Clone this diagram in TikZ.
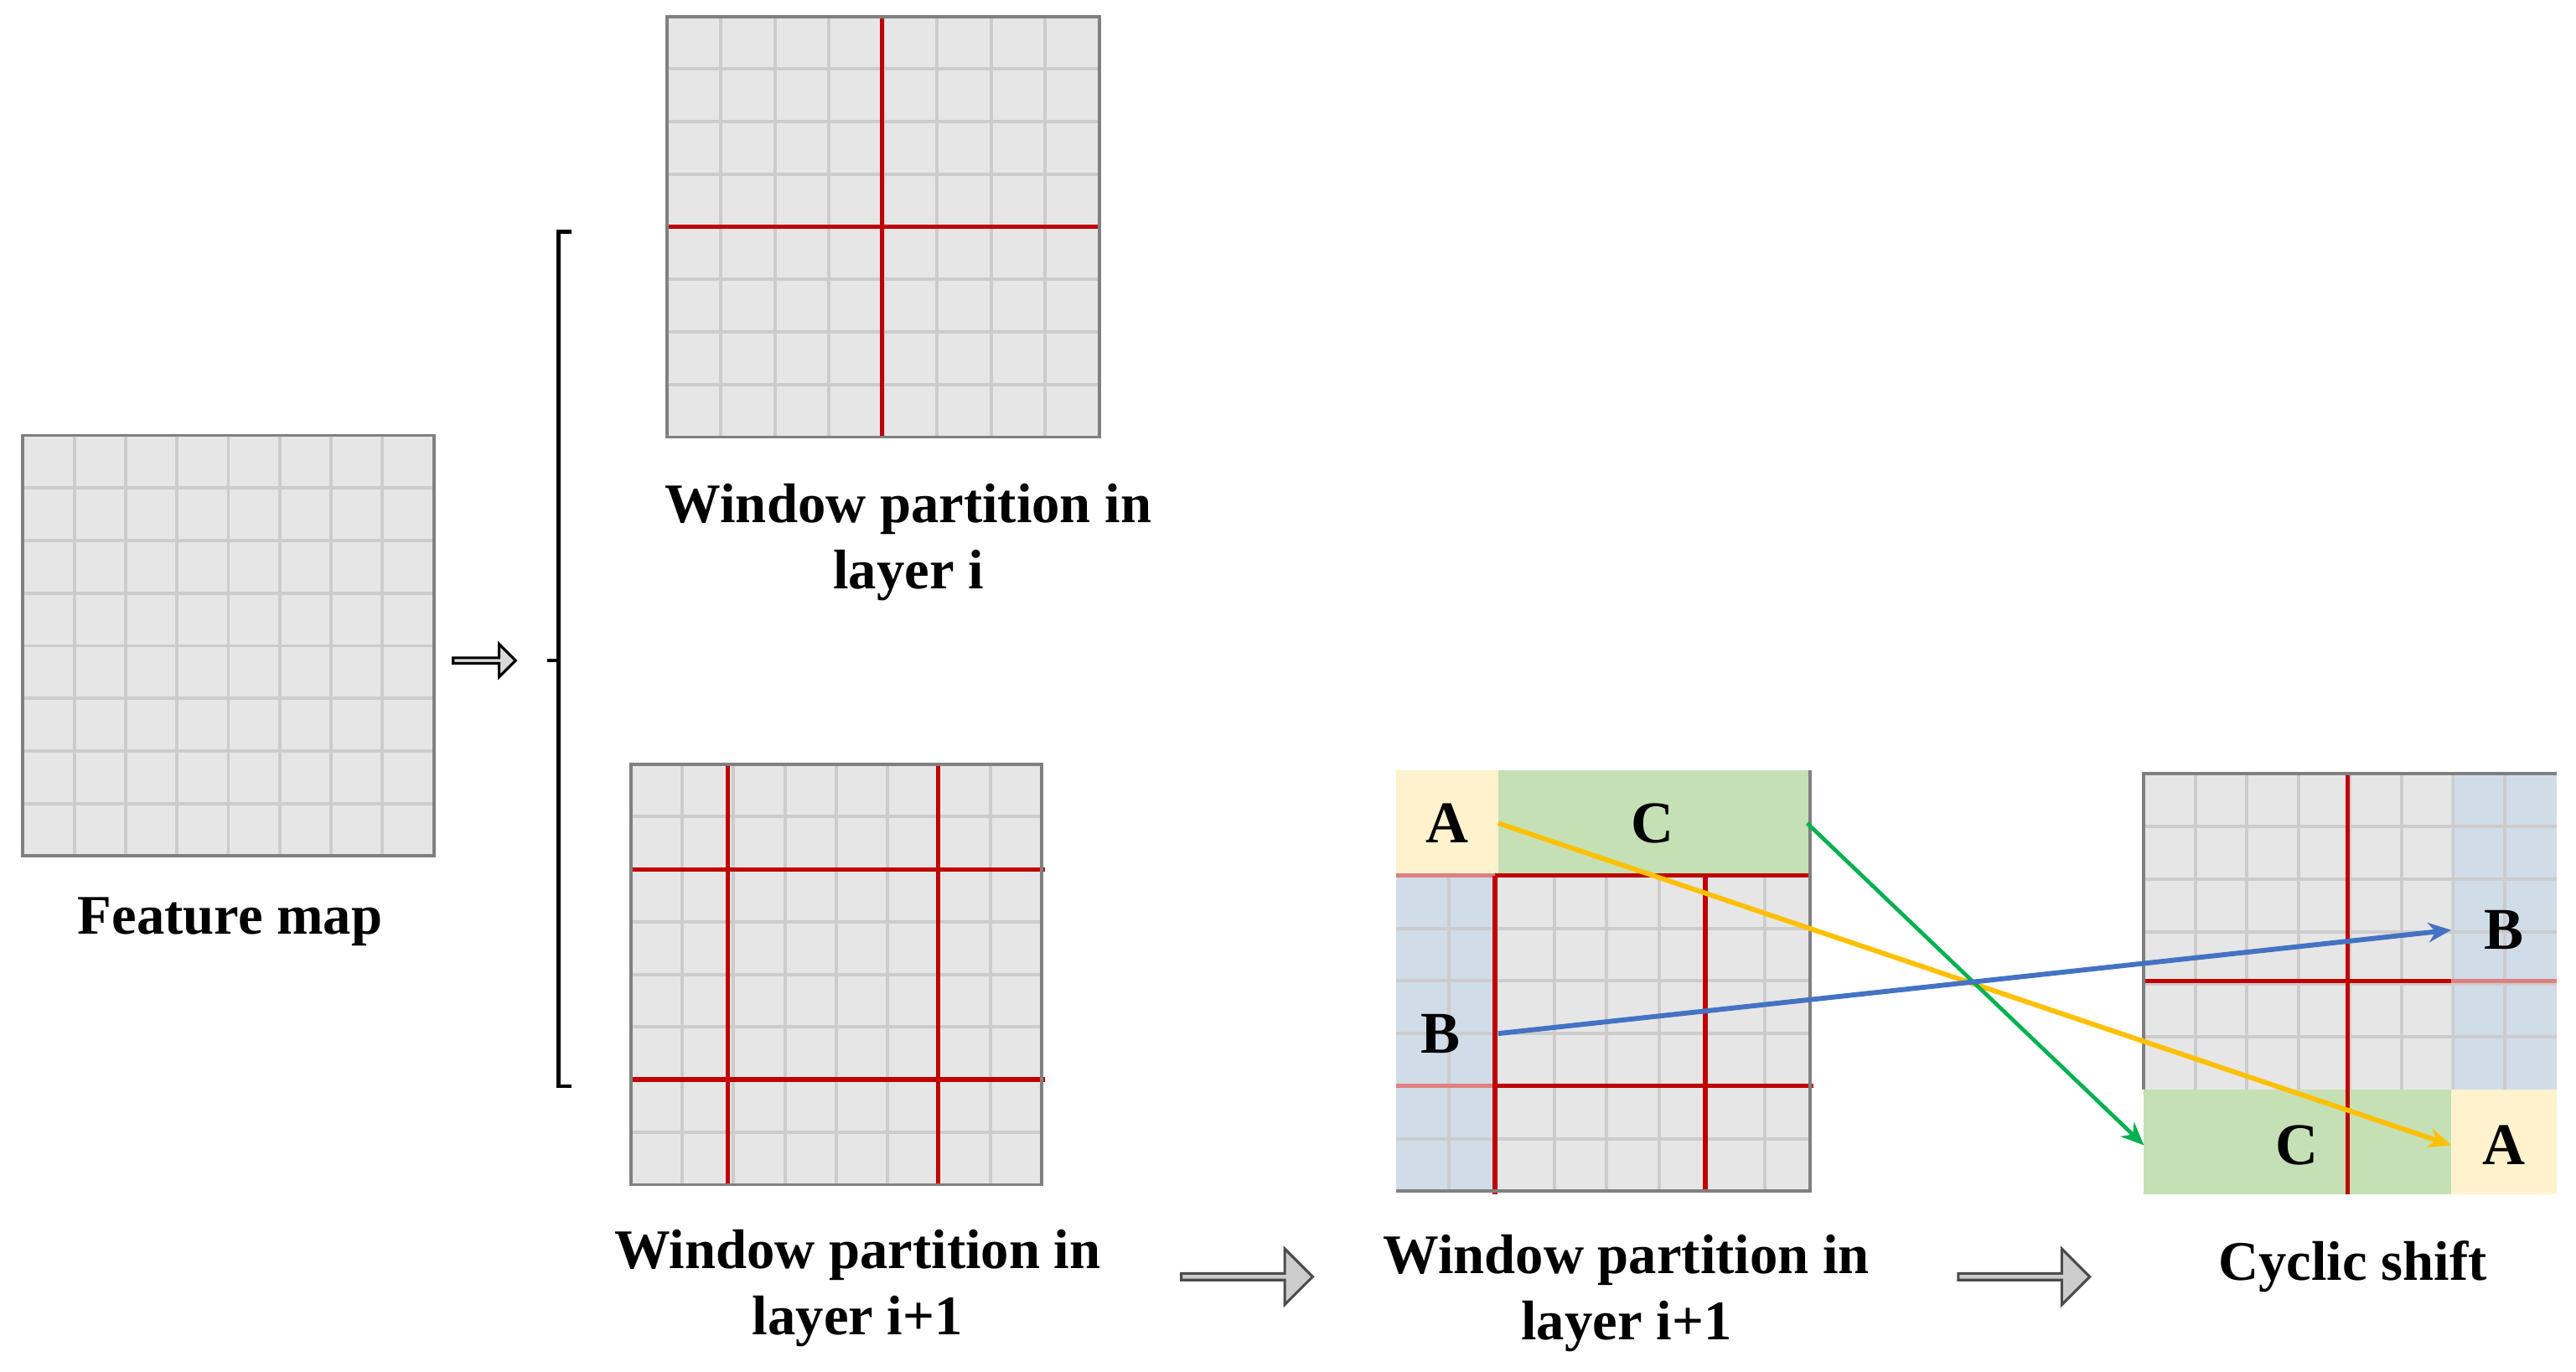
\documentclass[tikz,border=0pt]{standalone}
\usepackage{fontspec}
\setmainfont{Liberation Serif}
\usetikzlibrary{arrows.meta,shapes.arrows}
\definecolor{cellfill}{HTML}{E6E6E6}
\definecolor{cellline}{HTML}{CCCCCC}
\definecolor{border}{HTML}{808080}
\definecolor{wred}{HTML}{C00000}
\definecolor{pa}{HTML}{FFF2CC}
\definecolor{pc}{HTML}{C5E0B4}
\definecolor{pb}{HTML}{D0DCE8}
\definecolor{ay}{HTML}{FFC000}
\definecolor{ag}{HTML}{00B050}
\definecolor{ab}{HTML}{4472C4}
\tikzset{
  gl/.style={cellline,line width=1pt},
  rl/.style={wred,line width=1.3pt},
  bd/.style={border,line width=1pt},
  lbl/.style={font=\bfseries\fontsize{17}{20}\selectfont,align=center},
  let/.style={font=\bfseries\fontsize{18}{20}\selectfont},
  bigarrow/.style={single arrow,draw=black!70,fill=black!20,line width=0.8pt,minimum height=40pt,minimum width=17pt,single arrow head extend=3pt,inner sep=0pt},
  conn/.style={line width=1.5pt,-{Stealth[length=7pt,width=6pt]}}
}
% grid lines inside rectangle x0 y0 x1 y1 with 8 divisions each way
\newcommand{\mygridlines}[4]{%
  \foreach \i in {1,...,7}{%
    \draw[gl] ({#1+(#3-#1)*\i/8},#2) -- ({#1+(#3-#1)*\i/8},#4);
    \draw[gl] (#1,{#2+(#4-#2)*\i/8}) -- (#3,{#2+(#4-#2)*\i/8});}}
\begin{document}
\begin{tikzpicture}[x=0.5pt,y=-0.5pt]
\useasboundingbox (0,0) rectangle (1568,835);
% feature map
\fill[cellfill] (14,265) rectangle (264,521);
\mygridlines{14}{265}{264}{521}
\draw[bd] (14,265) rectangle (264,521);
\node[lbl] (fm) at (140,561) {Feature map};
% small arrow
\node[single arrow,draw=black,fill=black!15,line width=0.8pt,minimum height=19pt,minimum width=10pt,single arrow head extend=2pt,inner sep=0pt] (sa) at (294,402) {};
% bracket
\draw[line width=1.2pt] (348,141) -- (340,141) -- (340,661) -- (348,661);
\draw[line width=1.2pt] (333,402) -- (340,402);
% top grid
\fill[cellfill] (406,10) rectangle (669,266);
\mygridlines{406}{10}{669}{266}
\draw[rl] (537,10) -- (537,266);
\draw[rl] (406,138) -- (669,138);
\draw[bd] (406,10) rectangle (669,266);
\node[lbl] (l1) at (553,330) {Window partition in\\layer i};
% bottom grid
\fill[cellfill] (384,465) rectangle (634,721);
\mygridlines{384}{465}{634}{721}
\draw[rl] (443,465) -- (443,721);
\draw[rl] (571,465) -- (571,721);
\draw[rl] (384,529) -- (636,529);
\draw[rl] (384,657) -- (636,657);
\draw[bd] (384,465) rectangle (634,721);
\node[lbl] (l2) at (522,784) {Window partition in\\layer i+1};
% big arrows
\node[bigarrow] (ba1) at (758,777) {};
\node[bigarrow] (ba2) at (1231,777) {};
% middle grid
\fill[cellfill] (850,469) rectangle (1102,725);
\fill[pb] (850,533) rectangle (912,725);
\foreach \x in {882,946,978,1010,1074} \draw[gl] (\x,533) -- (\x,725);
\foreach \y in {565,597,629,693} \draw[gl] (850,\y) -- (1102,\y);
\fill[pa] (850,469) rectangle (912,533);
\fill[pc] (912,469) rectangle (1102,533);
\draw[wred!50,line width=1.3pt] (850,533) -- (910,533);
\draw[wred!50,line width=1.3pt] (850,661) -- (910,661);
\draw[rl] (910,533) -- (1102,533);
\draw[rl] (910,661) -- (1104,661);
\draw[rl] (910,533) -- (910,727);
\draw[rl] (1038,533) -- (1038,725);
\draw[bd] (1102,469) -- (1102,725) -- (850,725);
\node[lbl] (l3) at (990,787) {Window partition in\\layer i+1};
% right grid
\fill[cellfill] (1305,471) rectangle (1556,727);
\fill[pb] (1492,471) rectangle (1556,663);
\foreach \i in {1,...,7} \draw[gl] ({1305+251*\i/8},471) -- ({1305+251*\i/8},663);
\foreach \i in {1,...,5} \draw[gl] (1305,{471+32*\i}) -- (1556,{471+32*\i});
\fill[pc] (1305,663) rectangle (1492,727);
\fill[pa] (1492,663) rectangle (1556,727);
\draw[rl] (1429,471) -- (1429,727);
\draw[rl] (1305,597) -- (1492,597);
\draw[wred!50,line width=1.3pt] (1492,597) -- (1556,597);
\draw[bd] (1305,663) -- (1305,471) -- (1556,471);
\node[lbl] (l4) at (1432,771) {Cyclic shift};
% letters
\node[let] (A1) at (881,501) {A};
\node[let] (C1) at (1006,501) {C};
\node[let] (B1) at (877,629) {B};
\node[let] (B2) at (1524,566) {B};
\node[let] (C2) at (1398,697) {C};
\node[let] (A2) at (1524,697) {A};
\coordinate (ya) at (912,501);
\coordinate (yb) at (1492,697);
\coordinate (ga) at (1100,501);
\coordinate (gb) at (1305,697);
\coordinate (ba) at (912,629);
\coordinate (bb) at (1492,566);
\draw[conn,ay] (ya) -- (yb);
\draw[conn,ag,line width=1.2pt] (ga) -- (gb);
\draw[conn,ab] (ba) -- (bb);
\end{tikzpicture}
\end{document}
